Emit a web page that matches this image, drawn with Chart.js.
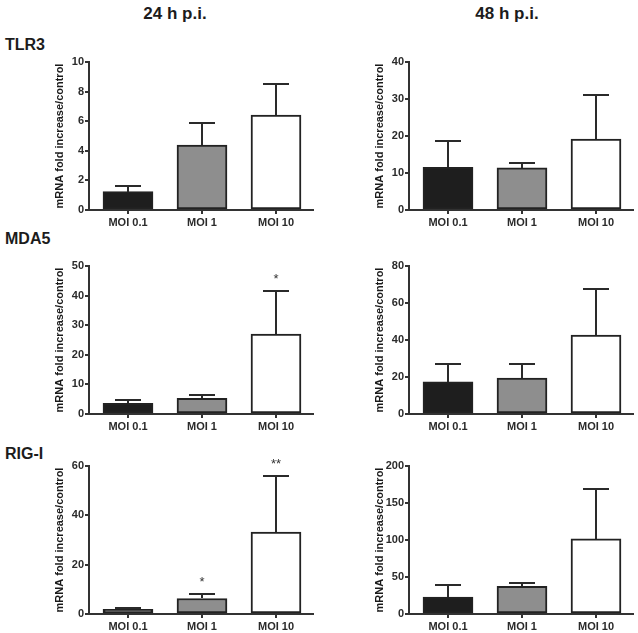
<!DOCTYPE html>
<html>
<head>
<meta charset="utf-8">
<script src="https://cdn.jsdelivr.net/npm/chart.js@4/dist/chart.umd.min.js"></script>
<style>
  html, body { margin: 0; padding: 0; background: #fff; }
  body { width: 638px; height: 633px; position: relative; overflow: hidden; font-family: "Liberation Sans", Arial, sans-serif; }
  canvas { position: absolute; }
  .lbl { position: absolute; font-weight: bold; color: #1c1c1c; white-space: nowrap; }
  .col { font-size: 17px; line-height: 17px; transform: translateX(-50%); }
  .row { font-size: 16px; line-height: 16px; }
</style>
</head>
<body>
<div class="lbl col" style="left:175px; top:5px">24 h p.i.</div>
<div class="lbl col" style="left:507px; top:5px">48 h p.i.</div>
<div class="lbl row" style="left:5px; top:37px">TLR3</div>
<div class="lbl row" style="left:5px; top:231px">MDA5</div>
<div class="lbl row" style="left:5px; top:446px">RIG-I</div>

<canvas id="c1" width="320" height="196" style="left:0px; top:42px"></canvas>
<canvas id="c2" width="320" height="196" style="left:320px; top:42px"></canvas>
<canvas id="c3" width="320" height="196" style="left:0px; top:246px"></canvas>
<canvas id="c4" width="320" height="196" style="left:320px; top:246px"></canvas>
<canvas id="c5" width="320" height="196" style="left:0px; top:446px"></canvas>
<canvas id="c6" width="320" height="196" style="left:320px; top:446px"></canvas>

<script>
const categories = ['MOI 0.1', 'MOI 1', 'MOI 10']
const yTitle = 'mRNA fold increase/control'

// means and upper SEM
const tlr3_24h = [1.24, 4.38, 6.41]
const tlr3_24h_err = [0.36, 1.47, 2.1]
const tlr3_48h = [11.5, 11.4, 19.2]
const tlr3_48h_err = [7.1, 1.4, 12.0]

const mda5_24h = [3.6, 5.3, 27.0]
const mda5_24h_err = [1.1, 1.0, 14.6]
const mda5_48h = [17.4, 19.4, 42.6]
const mda5_48h_err = [9.7, 7.4, 25.0]

const rigi_24h = [1.9, 6.3, 33.2]
const rigi_24h_err = [0.4, 1.9, 22.9]
const rigi_48h = [22.9, 37.3, 101.6]
const rigi_48h_err = [16.7, 4.5, 67.8]

const mda5_24h_sig = ['', '', '*']
const rigi_24h_sig = ['', '*', '**']

const yMax = [10, 40, 50, 80, 60, 200]
const yStep = [2, 10, 10, 20, 20, 50]

const fills = ['#1e1e1e', '#8e8e8e', '#ffffff']
const FONT = '"Liberation Sans", Arial, sans-serif'

const errorBars = {
  id: 'errorBars',
  afterDatasetsDraw (chart, args, opts) {
    const { ctx, scales: { x, y } } = chart
    const pts = chart.data.datasets[0].data
    ctx.save()
    ctx.strokeStyle = '#2a2a2a'
    ctx.lineWidth = 2
    pts.forEach((p, i) => {
      const px = Math.round(x.getPixelForValue(p.x))
      const y0 = Math.round(y.getPixelForValue(p.y))
      const y1 = Math.round(y.getPixelForValue(p.y + opts.err[i]))
      ctx.beginPath()
      ctx.moveTo(px, y0)
      ctx.lineTo(px, y1)
      ctx.moveTo(px - 13, y1)
      ctx.lineTo(px + 13, y1)
      ctx.stroke()
      const m = opts.marks && opts.marks[i]
      if (m) {
        ctx.fillStyle = '#333'
        ctx.font = '13px ' + FONT
        ctx.textAlign = 'center'
        ctx.textBaseline = 'alphabetic'
        ctx.fillText(m, px, y1 - 8)
      }
    })
    ctx.restore()
  }
}

function panel (id, values, err, marks, max, step) {
  const tickFont = { family: FONT, size: 11, weight: 'bold' }
  return new Chart(document.getElementById(id), {
    type: 'bar',
    data: {
      datasets: [{
        data: values.map((v, i) => ({ x: i, y: v })),
        backgroundColor: fills,
        borderColor: '#222',
        borderWidth: 2,
        borderSkipped: false,
        barThickness: 50
      }]
    },
    options: {
      responsive: false,
      animation: false,
      layout: { padding: { left: 49, right: 7, top: 20, bottom: 0 } },
      plugins: {
        legend: { display: false },
        tooltip: { enabled: false },
        errorBars: { err: err, marks: marks }
      },
      scales: {
        x: {
          type: 'linear',
          offset: false,
          min: -0.527,
          max: 2.5,
          afterBuildTicks: s => { s.ticks = categories.map((c, i) => ({ value: i })) },
          afterFit: s => { s.height = 28 },
          ticks: {
            callback: v => categories[v],
            font: tickFont,
            color: '#2b2b2b',
            padding: 2,
            maxRotation: 0,
            autoSkip: false
          },
          grid: { offset: false, drawOnChartArea: false, tickLength: 4, color: '#333', lineWidth: 2 },
          border: { color: '#333', width: 2 }
        },
        y: {
          min: 0,
          max: max,
          afterFit: s => { s.width = 40 },
          ticks: { stepSize: step, font: tickFont, color: '#2b2b2b', padding: 1 },
          grid: { drawOnChartArea: false, tickLength: 4, color: '#333', lineWidth: 2 },
          border: { color: '#333', width: 2 },
          title: {
            display: true,
            text: yTitle,
            font: { family: FONT, size: 11, weight: 'bold' },
            color: '#1a1a1a',
            padding: { top: 4, bottom: 4 }
          }
        }
      }
    },
    plugins: [errorBars]
  })
}

panel('c1', tlr3_24h, tlr3_24h_err, null, yMax[0], yStep[0])
panel('c2', tlr3_48h, tlr3_48h_err, null, yMax[1], yStep[1])
panel('c3', mda5_24h, mda5_24h_err, mda5_24h_sig, yMax[2], yStep[2])
panel('c4', mda5_48h, mda5_48h_err, null, yMax[3], yStep[3])
panel('c5', rigi_24h, rigi_24h_err, rigi_24h_sig, yMax[4], yStep[4])
panel('c6', rigi_48h, rigi_48h_err, null, yMax[5], yStep[5])
</script>
</body>
</html>
